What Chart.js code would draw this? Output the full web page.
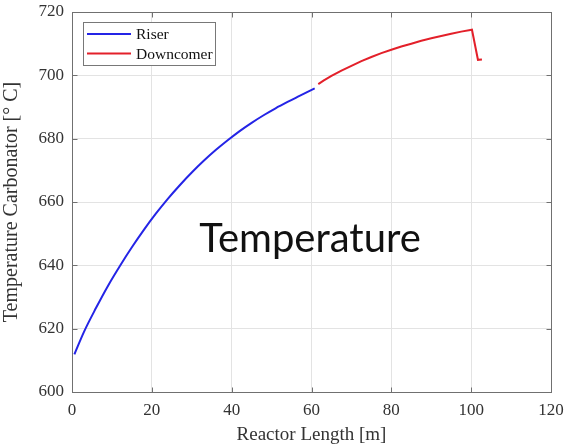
<!DOCTYPE html>
<html>
<head>
<meta charset="utf-8">
<script src="https://cdn.jsdelivr.net/npm/chart.js@4.4.0/dist/chart.umd.min.js"></script>
<style>
html,body{margin:0;padding:0;background:#fff;}
#wrap{width:564px;height:446px;position:relative;}
</style>
</head>
<body>
<div id="wrap"><canvas id="c" width="564" height="446"></canvas></div>
<script>
const riserX = [0.6, 3, 6, 9, 12, 15, 18, 21, 24, 27, 30, 33, 36, 39, 42, 45, 48, 51, 54, 57, 60.8];
const riserY = [611.9, 619.0, 626.5, 633.5, 639.8, 645.7, 651.2, 656.3, 661.0, 665.3, 669.3, 673.0, 676.4, 679.5, 682.4, 685.0, 687.4, 689.6, 691.6, 693.5, 695.9];
const downX = [61.7, 63, 65, 67.5, 70, 72.5, 75, 77.5, 80, 82.5, 85, 87.5, 90, 92.5, 95, 97.5, 100.2, 101.7, 102.7];
const downY = [697.2, 698.3, 699.8, 701.5, 703.0, 704.5, 705.8, 707.0, 708.1, 709.1, 710.0, 710.9, 711.7, 712.4, 713.1, 713.8, 714.4, 704.9, 705.0];
const xTicks = [0, 20, 40, 60, 80, 100, 120];
const yTicks = [600, 620, 640, 660, 680, 700, 720];
const seriesNames = ['Riser', 'Downcomer'];
const seriesColors = ['#2424e6', '#e3202a'];
const overlayText = 'Temperature';

const toPts = (xs, ys) => xs.map((x, i) => ({x: x, y: ys[i]}));

const serif = "'Liberation Serif', 'Times New Roman', serif";
const tickColor = '#333333';

const frame = {
  id: 'frame',
  afterDraw(chart) {
    const {ctx, chartArea: a, scales: {x, y}} = chart;
    ctx.save();
    ctx.strokeStyle = '#707070';
    ctx.lineWidth = 1;
    const L0 = Math.round(a.left) + 0.5, T0 = Math.round(a.top) + 0.5;
    const R0 = Math.round(a.right) + 0.5, B0 = Math.round(a.bottom) + 0.5;
    ctx.strokeRect(L0, T0, R0 - L0, B0 - T0);
    const L = 5;
    ctx.beginPath();
    xTicks.forEach(v => {
      const px = Math.round(x.getPixelForValue(v)) + 0.5;
      ctx.moveTo(px, B0); ctx.lineTo(px, B0 - L);
      ctx.moveTo(px, T0); ctx.lineTo(px, T0 + L);
    });
    yTicks.forEach(v => {
      const py = Math.round(y.getPixelForValue(v)) + 0.5;
      ctx.moveTo(L0, py); ctx.lineTo(L0 + L, py);
      ctx.moveTo(R0, py); ctx.lineTo(R0 - L, py);
    });
    ctx.stroke();

    // legend box
    const lx = Math.round(a.left) + 11, ly = Math.round(a.top) + 10, lw = 132, lh = 43;
    ctx.fillStyle = '#ffffff';
    ctx.fillRect(lx, ly, lw, lh);
    ctx.strokeStyle = '#787878';
    ctx.strokeRect(lx + 0.5, ly + 0.5, lw, lh);
    ctx.font = "15.5px " + serif;
    ctx.textBaseline = 'middle';
    seriesNames.forEach((n, i) => {
      const yy = ly + 12 + i * 19.5;
      ctx.strokeStyle = seriesColors[i];
      ctx.lineWidth = 2;
      ctx.beginPath();
      ctx.moveTo(lx + 4, yy); ctx.lineTo(lx + 48, yy);
      ctx.stroke();
      ctx.fillStyle = '#111';
      ctx.fillText(n, lx + 53, yy + 1);
    });

    // overlay text
    ctx.font = "40px Lato, 'Open Sans', 'Liberation Sans', sans-serif";
    ctx.fillStyle = '#111';
    ctx.textAlign = 'center';
    ctx.textBaseline = 'alphabetic';
    ctx.fillText(overlayText, 310, 252);
    ctx.restore();
  }
};

new Chart(document.getElementById('c'), {
  type: 'line',
  data: {
    datasets: [
      {label: seriesNames[0], data: toPts(riserX, riserY), borderColor: seriesColors[0], borderWidth: 2, pointRadius: 0, cubicInterpolationMode: 'monotone', fill: false},
      {label: seriesNames[1], data: toPts(downX, downY), borderColor: seriesColors[1], borderWidth: 2, pointRadius: 0, tension: 0, fill: false}
    ]
  },
  options: {
    responsive: false,
    animation: false,
    layout: {padding: {top: 12, right: 13, left: 0, bottom: 0}},
    plugins: {legend: {display: false}, tooltip: {enabled: false}},
    scales: {
      x: {
        type: 'linear', min: 0, max: 120,
        afterBuildTicks: s => { s.ticks = xTicks.map(v => ({value: v})); },
        afterFit: s => { s.height = 54; s.paddingLeft = 0; s.paddingRight = 0; },
        grid: {color: '#e3e3e3', drawTicks: false},
        border: {display: false},
        ticks: {color: tickColor, font: {family: serif, size: 17}, padding: 8, maxRotation: 0},
        title: {display: true, text: 'Reactor Length [m]', color: tickColor, font: {family: serif, size: 19}, padding: {top: 0, bottom: 0}}
      },
      y: {
        type: 'linear', min: 600, max: 720,
        afterBuildTicks: s => { s.ticks = yTicks.map(v => ({value: v})); },
        afterFit: s => { s.width = 72; s.paddingTop = 0; s.paddingBottom = 0; },
        grid: {color: '#e3e3e3', drawTicks: false},
        border: {display: false},
        ticks: {color: tickColor, font: {family: serif, size: 17}, padding: 8},
        title: {display: true, text: 'Temperature Carbonator [° C]', color: tickColor, font: {family: serif, size: 20}, padding: {top: 0, bottom: 0}}
      }
    }
  },
  plugins: [frame]
});
</script>
</body>
</html>
